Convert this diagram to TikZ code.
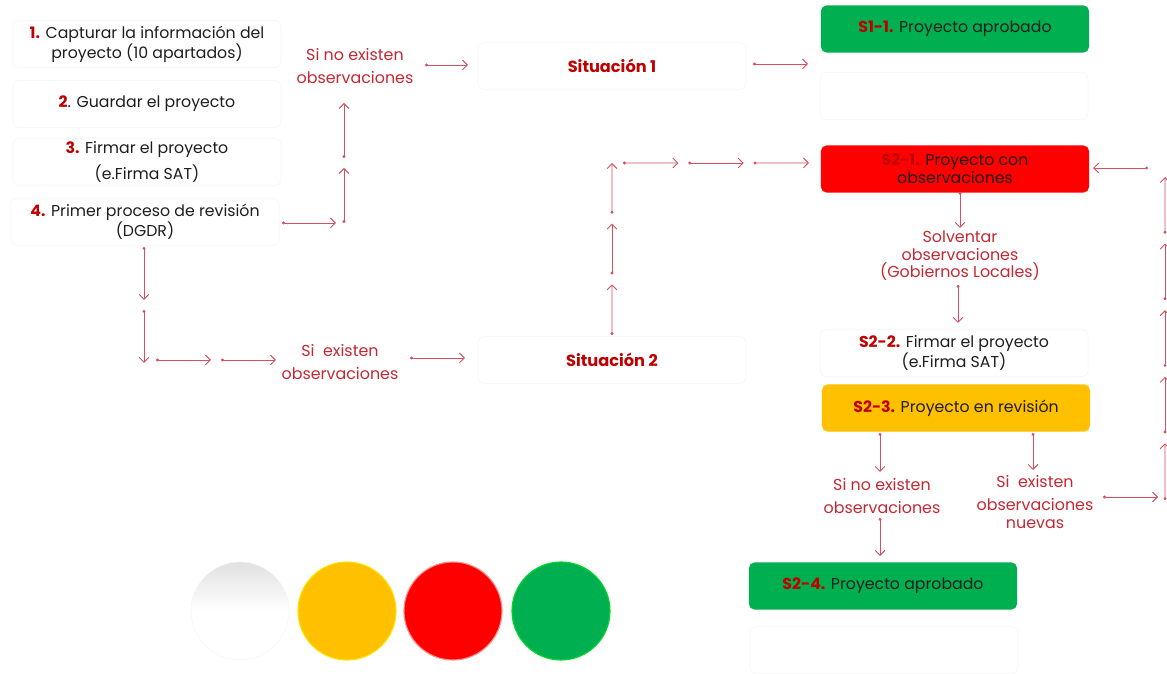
\documentclass[tikz,border=0pt]{standalone}
\usepackage{fontspec}
\setmainfont{Poppins}
\usetikzlibrary{arrows.meta,calc}
\definecolor{numred}{RGB}{192,0,0}
\definecolor{labred}{RGB}{196,40,50}
\definecolor{linered}{RGB}{210,80,95}
\definecolor{okgreen}{RGB}{0,176,80}
\definecolor{revyellow}{RGB}{255,192,0}
\definecolor{alertred}{RGB}{255,0,0}
\definecolor{txt}{RGB}{30,30,30}
\newcommand\stepno[1]{{\bfseries\color{numred}#1}}

\begin{document}
\begin{tikzpicture}[x=0.025cm, y=-0.025cm,
    stepbox/.style={draw=black!4, fill=white, rounded corners=4pt, minimum width=6.7cm, minimum height=1.18cm,
      align=center, text=txt, inner sep=1pt, font=\fontsize{11.2}{13}\selectfont},
    colbox/.style={stepbox, draw=none, fill=#1},
    sitbox/.style={stepbox, text=numred, font=\fontsize{11.5}{13}\selectfont\bfseries},
    lab/.style={text=labred, align=center, font=\fontsize{11.3}{17}\selectfont},
    seg/.style={draw=linered, line width=0.65pt, {Circle[length=2pt]}-{Straight Barb[length=3.5pt,width=7pt]}, shorten >=0.25cm},
    lamp/.style={circle, minimum size=2.45cm, inner sep=0pt}]
    \useasboundingbox (0,0) rectangle (1167,674);

    % left column
    \node[stepbox] (b1) at (147,44) {\stepno{1.} Capturar la información del\\proyecto (10 apartados)};
    \node[stepbox] (b2) at (147,104) {\stepno{2}. Guardar el proyecto};
    \node[stepbox] (b3) at (147,162) {\stepno{3.} Firmar el proyecto\\[4pt](e.Firma SAT)};
    \node[stepbox] (b4) at (145,222) {\stepno{4.} Primer proceso de revisión\\(DGDR)};

    \node[lab] (nobs1) at (355,66) {Si no existen\\observaciones};
    \node[lab] (obs1) at (340,362) {Si\ \ existen\\observaciones};

    \node[sitbox] (sit1) at (612,66) {Situación 1};
    \node[sitbox] (sit2) at (612,360) {Situación 2};

    % right column
    \node[colbox=okgreen] (s11) at (955,29) {\stepno{S1-1.} Proyecto aprobado};
    \node[stepbox] (blank1) at (954,96) {};
    \node[colbox=alertred] (s21) at (955,169) {\stepno{S2-1.} Proyecto con\\observaciones};
    \node[lab, font=\fontsize{11.3}{12.5}\selectfont] (solv) at (960,256) {Solventar\\observaciones\\(Gobiernos Locales)};
    \node[stepbox] (s22) at (954,353) {\stepno{S2-2.} Firmar el proyecto\\(e.Firma SAT)};
    \node[colbox=revyellow] (s23) at (956,408) {\stepno{S2-3.} Proyecto en revisión};
    \node[lab] (nobs2) at (882,496) {Si no existen\\observaciones};
    \node[lab, font=\fontsize{11.3}{12.5}\selectfont] (obs2) at (1035,502) {Si\ \ existen\\[4pt]observaciones\\nuevas};
    \node[colbox=okgreen] (s24) at (883,586) {\stepno{S2-4.} Proyecto aprobado};
    \node[stepbox] (blank2) at (884,650) {};

    % lamps
    \node[lamp, top color=black!12, bottom color=white, middle color=white, draw=black!4] (lw) at (240,611) {};
    \node[lamp, fill=revyellow, draw=yellow!70!revyellow, line width=0.8pt] (ly) at (347,611) {};
    \node[lamp, fill=alertred, draw=red!45!white, line width=0.8pt] (lr) at (453,611) {};
    \node[lamp, fill=okgreen, draw=green!50!okgreen, line width=0.8pt] (lg) at (561,611) {};

    % connectors, drawn as short segments
    \foreach \n/\x/\y in {a1-s/282/223, a1-e/346/223, a2-s/344/223, a2-e/344/93,
        a3-s/425/65, a3-e/478/65, a4-s/753/64, a4-e/818/64,
        b1-s/144/247, b1-e/144/373, b2-s/156/360, b2-e/286/360,
        b3-s/410/358, b3-e/475/358, b4-s/612/335, b4-e/612/153,
        b5-s/623/163, b5-e/819/163,
        r1-s/960/192, r1-e/960/238, r2-s/958/285, r2-e/958/333,
        r3-s/880/433, r3-e/880/482, r4-s/1033/433, r4-e/1033/480,
        r5-s/880/518, r5-e/880/566, r6-s/1103/497, r6-e/1168/497,
        r7-s/1165/500, r7-e/1165/167, r8-s/1148/168, r8-e/1083/168}
      \coordinate (\n) at (\x,\y);

    \foreach \s/\k in {a1/1, a2/2, a3/1, a4/1, b1/2, b2/2, b3/1, b4/3, b5/3,
        r1/1, r2/1, r3/1, r4/1, r5/1, r6/1, r7/5, r8/1}
      \foreach \i in {1,...,\k}
        \draw[seg] ($(\s-s)!{(\i-1)/\k}!(\s-e)$) -- ($(\s-s)!{\i/\k}!(\s-e)$);
\end{tikzpicture}
\end{document}
